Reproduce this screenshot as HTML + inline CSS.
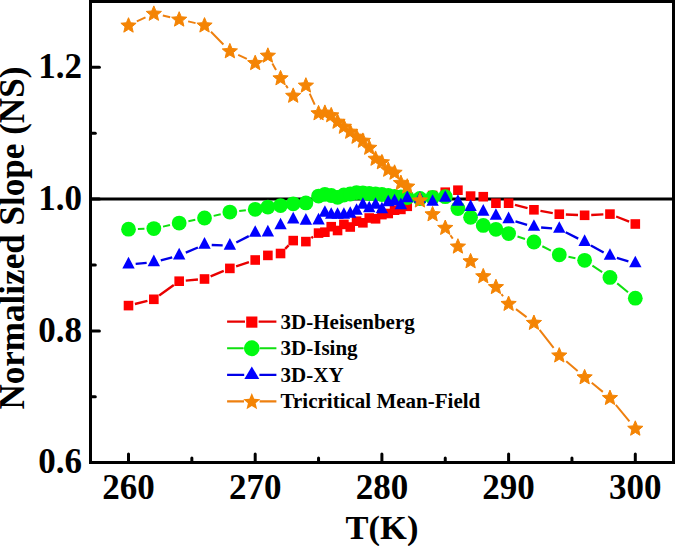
<!DOCTYPE html>
<html><head><meta charset="utf-8"><style>
html,body{margin:0;padding:0;background:#fff;width:675px;height:546px;overflow:hidden}
svg{display:block;font-family:"Liberation Serif",serif}
</style></head><body>
<svg width="675" height="546" viewBox="0 0 675 546">
<rect x="90.5" y="1.5" width="583" height="461" fill="none" stroke="#000" stroke-width="3"/>
<line x1="92" y1="199.1" x2="672" y2="199.1" stroke="#000" stroke-width="3"/>
<line x1="92" y1="330.90" x2="99.4" y2="330.90" stroke="#000" stroke-width="3" stroke-linecap="round"/>
<line x1="92" y1="199.10" x2="99.4" y2="199.10" stroke="#000" stroke-width="3" stroke-linecap="round"/>
<line x1="92" y1="67.30" x2="99.4" y2="67.30" stroke="#000" stroke-width="3" stroke-linecap="round"/>
<line x1="92" y1="396.80" x2="95.3" y2="396.80" stroke="#000" stroke-width="3" stroke-linecap="round"/>
<line x1="92" y1="265.00" x2="95.3" y2="265.00" stroke="#000" stroke-width="3" stroke-linecap="round"/>
<line x1="92" y1="133.20" x2="95.3" y2="133.20" stroke="#000" stroke-width="3" stroke-linecap="round"/>
<line x1="128.50" y1="461" x2="128.50" y2="453.9" stroke="#000" stroke-width="3" stroke-linecap="round"/>
<line x1="255.20" y1="461" x2="255.20" y2="453.9" stroke="#000" stroke-width="3" stroke-linecap="round"/>
<line x1="381.90" y1="461" x2="381.90" y2="453.9" stroke="#000" stroke-width="3" stroke-linecap="round"/>
<line x1="508.60" y1="461" x2="508.60" y2="453.9" stroke="#000" stroke-width="3" stroke-linecap="round"/>
<line x1="635.30" y1="461" x2="635.30" y2="453.9" stroke="#000" stroke-width="3" stroke-linecap="round"/>
<line x1="191.85" y1="461" x2="191.85" y2="458.0" stroke="#000" stroke-width="3" stroke-linecap="round"/>
<line x1="318.55" y1="461" x2="318.55" y2="458.0" stroke="#000" stroke-width="3" stroke-linecap="round"/>
<line x1="445.25" y1="461" x2="445.25" y2="458.0" stroke="#000" stroke-width="3" stroke-linecap="round"/>
<line x1="571.95" y1="461" x2="571.95" y2="458.0" stroke="#000" stroke-width="3" stroke-linecap="round"/>
<text x="82" y="473.30" font-family="Liberation Serif" font-weight="bold" font-size="35" text-anchor="end">0.6</text>
<text x="82" y="341.50" font-family="Liberation Serif" font-weight="bold" font-size="35" text-anchor="end">0.8</text>
<text x="82" y="209.70" font-family="Liberation Serif" font-weight="bold" font-size="35" text-anchor="end">1.0</text>
<text x="82" y="77.90" font-family="Liberation Serif" font-weight="bold" font-size="35" text-anchor="end">1.2</text>
<text x="128.50" y="499.3" font-family="Liberation Serif" font-weight="bold" font-size="35" text-anchor="middle">260</text>
<text x="255.20" y="499.3" font-family="Liberation Serif" font-weight="bold" font-size="35" text-anchor="middle">270</text>
<text x="381.90" y="499.3" font-family="Liberation Serif" font-weight="bold" font-size="35" text-anchor="middle">280</text>
<text x="508.60" y="499.3" font-family="Liberation Serif" font-weight="bold" font-size="35" text-anchor="middle">290</text>
<text x="635.30" y="499.3" font-family="Liberation Serif" font-weight="bold" font-size="35" text-anchor="middle">300</text>
<text x="382" y="539.3" font-family="Liberation Serif" font-weight="bold" font-size="34.5" text-anchor="middle">T(K)</text>
<text transform="translate(23.8,409.6) rotate(-90)" x="0" y="0" font-family="Liberation Serif" font-weight="bold" font-size="35.1">Normalized Slope (NS)</text>
<path d="M134.91,304.01L147.43,300.89M159.21,295.46L173.81,285.04M185.76,280.63L197.94,279.57M210.61,276.45L223.77,270.95M236.12,266.32L248.94,262.08M285.16,248.79L288.59,245.31M311.36,237.92L313.07,236.78M514.99,204.86L527.55,208.14M540.44,210.93L552.78,213.07M565.87,214.49L578.03,215.01M591.21,214.99L603.37,214.41M616.11,216.50L629.15,221.60" fill="none" stroke="#e80000" stroke-width="2.4"/>
<path d="M135.67,263.88L146.67,262.92M160.79,260.43L172.23,257.37M185.80,252.68L197.90,247.52M211.71,244.98L222.67,245.42M236.29,242.45L248.77,236.15M515.49,221.29L527.05,224.81M541.12,227.47L552.10,228.33M565.68,232.21L578.22,238.69M590.93,245.46L603.65,252.44M616.86,257.94L628.40,261.36" fill="none" stroke="#0000e8" stroke-width="2.4"/>
<path d="M137.90,228.98L144.44,228.82M163.03,226.61L169.99,225.09M188.40,221.25L195.30,219.85M213.68,215.87L220.70,214.23M239.20,211.07L245.86,210.33M517.52,236.56L525.02,239.04M542.33,246.24L550.89,250.56M568.47,256.79L575.43,258.31M592.41,265.56L602.17,272.14M617.23,283.36L628.03,292.24" fill="none" stroke="#10e010" stroke-width="2.0"/>
<path d="M136.84,21.42L145.50,17.38M162.81,15.55L170.21,17.25M188.14,21.39L195.56,23.11M210.97,31.76L223.41,44.44M238.20,54.88L246.86,58.92M272.37,63.42L276.04,69.98M285.94,85.45L287.81,88.05M309.71,93.67L314.72,104.63M450.41,235.22L452.76,238.68M501.47,294.15L503.06,296.25M515.96,309.12L526.58,317.08M539.59,329.86L553.63,347.94M566.25,361.20L577.65,371.00M591.74,382.82L602.84,391.88M615.82,404.80L629.44,421.30" fill="none" stroke="#ee8010" stroke-width="2.0"/>
<g fill="#ff0000"><rect x="123.70" y="300.80" width="9.6" height="9.6"/><rect x="149.04" y="294.50" width="9.6" height="9.6"/><rect x="174.38" y="276.40" width="9.6" height="9.6"/><rect x="199.72" y="274.20" width="9.6" height="9.6"/><rect x="225.06" y="263.60" width="9.6" height="9.6"/><rect x="250.40" y="255.20" width="9.6" height="9.6"/><rect x="263.07" y="250.60" width="9.6" height="9.6"/><rect x="275.74" y="248.70" width="9.6" height="9.6"/><rect x="288.41" y="235.80" width="9.6" height="9.6"/><rect x="301.08" y="236.80" width="9.6" height="9.6"/><rect x="313.75" y="228.30" width="9.6" height="9.6"/><rect x="320.08" y="227.40" width="9.6" height="9.6"/><rect x="326.42" y="221.90" width="9.6" height="9.6"/><rect x="332.75" y="225.70" width="9.6" height="9.6"/><rect x="339.09" y="219.60" width="9.6" height="9.6"/><rect x="345.43" y="222.20" width="9.6" height="9.6"/><rect x="351.76" y="216.40" width="9.6" height="9.6"/><rect x="358.09" y="218.00" width="9.6" height="9.6"/><rect x="364.43" y="213.20" width="9.6" height="9.6"/><rect x="370.76" y="214.00" width="9.6" height="9.6"/><rect x="377.10" y="209.80" width="9.6" height="9.6"/><rect x="383.44" y="208.70" width="9.6" height="9.6"/><rect x="389.77" y="205.40" width="9.6" height="9.6"/><rect x="396.10" y="204.60" width="9.6" height="9.6"/><rect x="402.44" y="201.50" width="9.6" height="9.6"/><rect x="415.11" y="194.70" width="9.6" height="9.6"/><rect x="427.78" y="190.70" width="9.6" height="9.6"/><rect x="440.45" y="187.40" width="9.6" height="9.6"/><rect x="453.12" y="185.40" width="9.6" height="9.6"/><rect x="465.79" y="191.30" width="9.6" height="9.6"/><rect x="478.46" y="191.90" width="9.6" height="9.6"/><rect x="491.13" y="198.40" width="9.6" height="9.6"/><rect x="503.80" y="198.40" width="9.6" height="9.6"/><rect x="529.14" y="205.00" width="9.6" height="9.6"/><rect x="554.48" y="209.40" width="9.6" height="9.6"/><rect x="579.82" y="210.50" width="9.6" height="9.6"/><rect x="605.16" y="209.30" width="9.6" height="9.6"/><rect x="630.50" y="219.20" width="9.6" height="9.6"/></g>
<g fill="#00fa10"><circle cx="128.50" cy="229.20" r="7.4"/><circle cx="153.84" cy="228.60" r="7.4"/><circle cx="179.18" cy="223.10" r="7.4"/><circle cx="204.52" cy="218.00" r="7.4"/><circle cx="229.86" cy="212.10" r="7.4"/><circle cx="255.20" cy="209.30" r="7.4"/><circle cx="267.87" cy="207.10" r="7.4"/><circle cx="280.54" cy="205.60" r="7.4"/><circle cx="293.21" cy="203.80" r="7.4"/><circle cx="305.88" cy="202.90" r="7.4"/><circle cx="318.55" cy="196.10" r="7.4"/><circle cx="324.88" cy="194.30" r="7.4"/><circle cx="331.22" cy="195.50" r="7.4"/><circle cx="337.56" cy="197.30" r="7.4"/><circle cx="343.89" cy="195.00" r="7.4"/><circle cx="350.23" cy="194.00" r="7.4"/><circle cx="356.56" cy="192.60" r="7.4"/><circle cx="362.89" cy="193.00" r="7.4"/><circle cx="369.23" cy="193.50" r="7.4"/><circle cx="375.56" cy="194.00" r="7.4"/><circle cx="381.90" cy="194.50" r="7.4"/><circle cx="388.24" cy="195.50" r="7.4"/><circle cx="394.57" cy="196.40" r="7.4"/><circle cx="400.90" cy="197.00" r="7.4"/><circle cx="407.24" cy="197.50" r="7.4"/><circle cx="419.91" cy="198.50" r="7.4"/><circle cx="432.58" cy="197.40" r="7.4"/><circle cx="445.25" cy="196.70" r="7.4"/><circle cx="457.92" cy="208.50" r="7.4"/><circle cx="470.59" cy="217.30" r="7.4"/><circle cx="483.26" cy="225.40" r="7.4"/><circle cx="495.93" cy="229.30" r="7.4"/><circle cx="508.60" cy="233.60" r="7.4"/><circle cx="533.94" cy="242.00" r="7.4"/><circle cx="559.28" cy="254.80" r="7.4"/><circle cx="584.62" cy="260.30" r="7.4"/><circle cx="609.96" cy="277.40" r="7.4"/><circle cx="635.30" cy="298.20" r="7.4"/></g>
<g fill="#0000ff"><polygon points="128.50,256.75 134.70,268.45 122.30,268.45"/><polygon points="153.84,254.55 160.04,266.25 147.64,266.25"/><polygon points="179.18,247.75 185.38,259.45 172.98,259.45"/><polygon points="204.52,236.95 210.72,248.65 198.32,248.65"/><polygon points="229.86,237.95 236.06,249.65 223.66,249.65"/><polygon points="255.20,225.15 261.40,236.85 249.00,236.85"/><polygon points="267.87,224.75 274.07,236.45 261.67,236.45"/><polygon points="280.54,217.65 286.74,229.35 274.34,229.35"/><polygon points="293.21,211.85 299.41,223.55 287.01,223.55"/><polygon points="305.88,213.05 312.08,224.75 299.68,224.75"/><polygon points="318.55,212.85 324.75,224.55 312.35,224.55"/><polygon points="324.88,205.15 331.08,216.85 318.69,216.85"/><polygon points="331.22,207.15 337.42,218.85 325.02,218.85"/><polygon points="337.56,207.15 343.75,218.85 331.36,218.85"/><polygon points="343.89,207.15 350.09,218.85 337.69,218.85"/><polygon points="350.23,206.15 356.43,217.85 344.03,217.85"/><polygon points="356.56,203.15 362.76,214.85 350.36,214.85"/><polygon points="362.89,197.15 369.09,208.85 356.69,208.85"/><polygon points="369.23,200.65 375.43,212.35 363.03,212.35"/><polygon points="375.56,197.15 381.76,208.85 369.37,208.85"/><polygon points="381.90,201.65 388.10,213.35 375.70,213.35"/><polygon points="388.24,194.65 394.44,206.35 382.04,206.35"/><polygon points="394.57,193.65 400.77,205.35 388.37,205.35"/><polygon points="400.90,197.45 407.10,209.15 394.70,209.15"/><polygon points="407.24,190.45 413.44,202.15 401.04,202.15"/><polygon points="419.91,191.15 426.11,202.85 413.71,202.85"/><polygon points="432.58,194.15 438.78,205.85 426.38,205.85"/><polygon points="445.25,190.15 451.45,201.85 439.05,201.85"/><polygon points="457.92,194.15 464.12,205.85 451.72,205.85"/><polygon points="470.59,199.35 476.79,211.05 464.39,211.05"/><polygon points="483.26,203.95 489.46,215.65 477.06,215.65"/><polygon points="495.93,208.15 502.13,219.85 489.73,219.85"/><polygon points="508.60,211.45 514.80,223.15 502.40,223.15"/><polygon points="533.94,219.15 540.14,230.85 527.74,230.85"/><polygon points="559.28,221.15 565.48,232.85 553.08,232.85"/><polygon points="584.62,234.25 590.82,245.95 578.42,245.95"/><polygon points="609.96,248.15 616.16,259.85 603.76,259.85"/><polygon points="635.30,255.65 641.50,267.35 629.10,267.35"/></g>
<g fill="#f48404" stroke="#f48404" stroke-width="1" stroke-linejoin="round"><polygon points="128.50,17.70 130.62,22.79 136.11,23.23 131.92,26.81 133.20,32.17 128.50,29.30 123.80,32.17 125.08,26.81 120.89,23.23 126.38,22.79"/><polygon points="153.84,5.90 155.96,10.99 161.45,11.43 157.26,15.01 158.54,20.37 153.84,17.50 149.14,20.37 150.42,15.01 146.23,11.43 151.72,10.99"/><polygon points="179.18,11.70 181.30,16.79 186.79,17.23 182.60,20.81 183.88,26.17 179.18,23.30 174.48,26.17 175.76,20.81 171.57,17.23 177.06,16.79"/><polygon points="204.52,17.60 206.64,22.69 212.13,23.13 207.94,26.71 209.22,32.07 204.52,29.20 199.82,32.07 201.10,26.71 196.91,23.13 202.40,22.69"/><polygon points="229.86,43.40 231.98,48.49 237.47,48.93 233.28,52.51 234.56,57.87 229.86,55.00 225.16,57.87 226.44,52.51 222.25,48.93 227.74,48.49"/><polygon points="255.20,55.20 257.32,60.29 262.81,60.73 258.62,64.31 259.90,69.67 255.20,66.80 250.50,69.67 251.78,64.31 247.59,60.73 253.08,60.29"/><polygon points="267.87,47.80 269.99,52.89 275.48,53.33 271.29,56.91 272.57,62.27 267.87,59.40 263.17,62.27 264.45,56.91 260.26,53.33 265.75,52.89"/><polygon points="280.54,70.40 282.66,75.49 288.15,75.93 283.96,79.51 285.24,84.87 280.54,82.00 275.84,84.87 277.12,79.51 272.93,75.93 278.42,75.49"/><polygon points="293.21,87.90 295.33,92.99 300.82,93.43 296.63,97.01 297.91,102.37 293.21,99.50 288.51,102.37 289.79,97.01 285.60,93.43 291.09,92.99"/><polygon points="305.88,77.70 308.00,82.79 313.49,83.23 309.30,86.81 310.58,92.17 305.88,89.30 301.18,92.17 302.46,86.81 298.27,83.23 303.76,82.79"/><polygon points="318.55,105.40 320.67,110.49 326.16,110.93 321.97,114.51 323.25,119.87 318.55,117.00 313.85,119.87 315.13,114.51 310.94,110.93 316.43,110.49"/><polygon points="324.88,104.90 327.00,109.99 332.49,110.43 328.31,114.01 329.59,119.37 324.88,116.50 320.18,119.37 321.46,114.01 317.28,110.43 322.77,109.99"/><polygon points="331.22,107.40 333.34,112.49 338.83,112.93 334.64,116.51 335.92,121.87 331.22,119.00 326.52,121.87 327.80,116.51 323.61,112.93 329.10,112.49"/><polygon points="337.56,113.90 339.67,118.99 345.16,119.43 340.98,123.01 342.26,128.37 337.56,125.50 332.85,128.37 334.13,123.01 329.95,119.43 335.44,118.99"/><polygon points="343.89,118.90 346.01,123.99 351.50,124.43 347.31,128.01 348.59,133.37 343.89,130.50 339.19,133.37 340.47,128.01 336.28,124.43 341.77,123.99"/><polygon points="350.23,123.90 352.34,128.99 357.83,129.43 353.65,133.01 354.93,138.37 350.23,135.50 345.52,138.37 346.80,133.01 342.62,129.43 348.11,128.99"/><polygon points="356.56,128.90 358.68,133.99 364.17,134.43 359.98,138.01 361.26,143.37 356.56,140.50 351.86,143.37 353.14,138.01 348.95,134.43 354.44,133.99"/><polygon points="362.89,132.90 365.01,137.99 370.50,138.43 366.32,142.01 367.60,147.37 362.89,144.50 358.19,147.37 359.47,142.01 355.29,138.43 360.78,137.99"/><polygon points="369.23,139.90 371.35,144.99 376.84,145.43 372.65,149.01 373.93,154.37 369.23,151.50 364.53,154.37 365.81,149.01 361.62,145.43 367.11,144.99"/><polygon points="375.56,150.90 377.68,155.99 383.17,156.43 378.99,160.01 380.27,165.37 375.56,162.50 370.86,165.37 372.14,160.01 367.96,156.43 373.45,155.99"/><polygon points="381.90,154.40 384.02,159.49 389.51,159.93 385.32,163.51 386.60,168.87 381.90,166.00 377.20,168.87 378.48,163.51 374.29,159.93 379.78,159.49"/><polygon points="388.24,161.90 390.35,166.99 395.84,167.43 391.66,171.01 392.94,176.37 388.24,173.50 383.53,176.37 384.81,171.01 380.63,167.43 386.12,166.99"/><polygon points="394.57,164.80 396.69,169.89 402.18,170.33 397.99,173.91 399.27,179.27 394.57,176.40 389.87,179.27 391.15,173.91 386.96,170.33 392.45,169.89"/><polygon points="400.90,175.10 403.02,180.19 408.51,180.63 404.33,184.21 405.61,189.57 400.90,186.70 396.20,189.57 397.48,184.21 393.30,180.63 398.79,180.19"/><polygon points="407.24,178.70 409.36,183.79 414.85,184.23 410.66,187.81 411.94,193.17 407.24,190.30 402.54,193.17 403.82,187.81 399.63,184.23 405.12,183.79"/><polygon points="419.91,192.60 422.03,197.69 427.52,198.13 423.33,201.71 424.61,207.07 419.91,204.20 415.21,207.07 416.49,201.71 412.30,198.13 417.79,197.69"/><polygon points="432.58,206.40 434.70,211.49 440.19,211.93 436.00,215.51 437.28,220.87 432.58,218.00 427.88,220.87 429.16,215.51 424.97,211.93 430.46,211.49"/><polygon points="445.25,220.00 447.37,225.09 452.86,225.53 448.67,229.11 449.95,234.47 445.25,231.60 440.55,234.47 441.83,229.11 437.64,225.53 443.13,225.09"/><polygon points="457.92,238.70 460.04,243.79 465.53,244.23 461.34,247.81 462.62,253.17 457.92,250.30 453.22,253.17 454.50,247.81 450.31,244.23 455.80,243.79"/><polygon points="470.59,253.40 472.71,258.49 478.20,258.93 474.01,262.51 475.29,267.87 470.59,265.00 465.89,267.87 467.17,262.51 462.98,258.93 468.47,258.49"/><polygon points="483.26,268.40 485.38,273.49 490.87,273.93 486.68,277.51 487.96,282.87 483.26,280.00 478.56,282.87 479.84,277.51 475.65,273.93 481.14,273.49"/><polygon points="495.93,279.20 498.05,284.29 503.54,284.73 499.35,288.31 500.63,293.67 495.93,290.80 491.23,293.67 492.51,288.31 488.32,284.73 493.81,284.29"/><polygon points="508.60,296.00 510.72,301.09 516.21,301.53 512.02,305.11 513.30,310.47 508.60,307.60 503.90,310.47 505.18,305.11 500.99,301.53 506.48,301.09"/><polygon points="533.94,315.00 536.06,320.09 541.55,320.53 537.36,324.11 538.64,329.47 533.94,326.60 529.24,329.47 530.52,324.11 526.33,320.53 531.82,320.09"/><polygon points="559.28,347.60 561.40,352.69 566.89,353.13 562.70,356.71 563.98,362.07 559.28,359.20 554.58,362.07 555.86,356.71 551.67,353.13 557.16,352.69"/><polygon points="584.62,369.40 586.74,374.49 592.23,374.93 588.04,378.51 589.32,383.87 584.62,381.00 579.92,383.87 581.20,378.51 577.01,374.93 582.50,374.49"/><polygon points="609.96,390.10 612.08,395.19 617.57,395.63 613.38,399.21 614.66,404.57 609.96,401.70 605.26,404.57 606.54,399.21 602.35,395.63 607.84,395.19"/><polygon points="635.30,420.80 637.42,425.89 642.91,426.33 638.72,429.91 640.00,435.27 635.30,432.40 630.60,435.27 631.88,429.91 627.69,426.33 633.18,425.89"/></g>
<path d="M227.1,321.70H245.00M258.60,321.70H276.4" stroke="#e80000" stroke-width="2.2" fill="none"/>
<g fill="#ff0000"><rect x="246.20" y="316.50" width="11.2" height="11.2"/></g>
<text x="280.6" y="328.8" font-family="Liberation Serif" font-weight="bold" font-size="21">3D-Heisenberg</text>
<path d="M227.1,348.25H243.60M260.00,348.25H276.4" stroke="#10e010" stroke-width="2.2" fill="none"/>
<g fill="#00fa10"><circle cx="251.80" cy="348.25" r="7.9"/></g>
<text x="280.6" y="355.35" font-family="Liberation Serif" font-weight="bold" font-size="21">3D-Ising</text>
<path d="M227.1,374.80H244.20M259.40,374.80H276.4" stroke="#0000e8" stroke-width="2.2" fill="none"/>
<g fill="#0000ff"><polygon points="251.80,366.40 259.25,379.00 244.35,379.00"/></g>
<text x="280.6" y="381.9" font-family="Liberation Serif" font-weight="bold" font-size="21">3D-XY</text>
<path d="M227.1,401.35H244.00M259.60,401.35H276.4" stroke="#ee8010" stroke-width="2.2" fill="none"/>
<g fill="#f48404"><polygon points="251.80,392.95 254.18,398.67 260.36,399.17 255.65,403.20 257.09,409.23 251.80,406.00 246.51,409.23 247.95,403.20 243.24,399.17 249.42,398.67"/></g>
<text x="280.6" y="408.45" font-family="Liberation Serif" font-weight="bold" font-size="21">Tricritical Mean-Field</text>
</svg>
</body></html>
